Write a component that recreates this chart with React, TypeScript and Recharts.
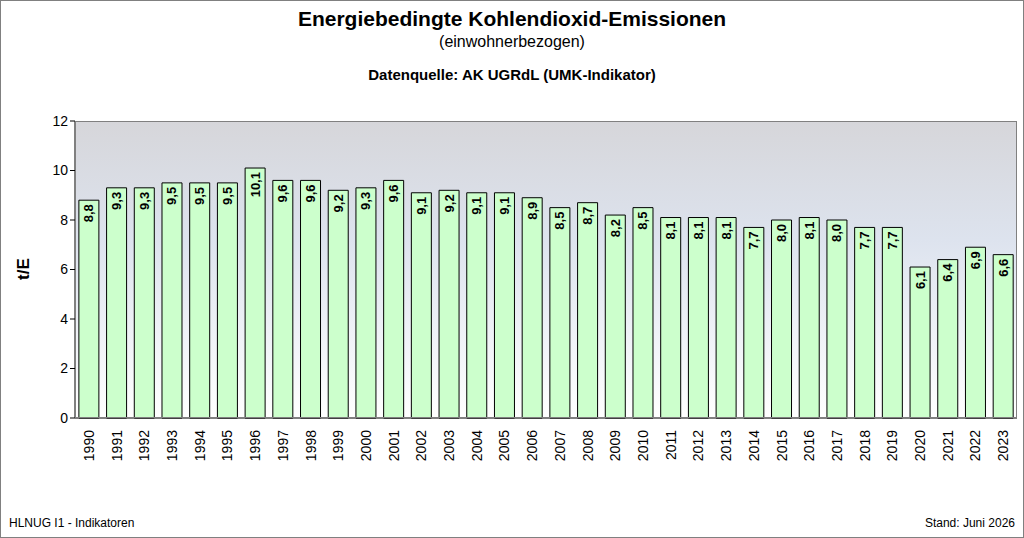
import { BarChart, Bar, XAxis, YAxis, CartesianGrid, LabelList } from 'recharts'

const years = ['1990','1991','1992','1993','1994','1995','1996','1997','1998','1999','2000','2001','2002','2003','2004','2005','2006','2007','2008','2009','2010','2011','2012','2013','2014','2015','2016','2017','2018','2019','2020','2021','2022','2023']
const values = [8.8,9.3,9.3,9.5,9.5,9.5,10.1,9.6,9.6,9.2,9.3,9.6,9.1,9.2,9.1,9.1,8.9,8.5,8.7,8.2,8.5,8.1,8.1,8.1,7.7,8.0,8.1,8.0,7.7,7.7,6.1,6.4,6.9,6.6]
const yTicks = [0, 2, 4, 6, 8, 10, 12]

const data = years.map((y, i) => ({ year: y, value: values[i] }))
const font = '"Liberation Sans", Arial, sans-serif'

const XTick = (props: any) => {
  const { x, y, payload } = props
  return (
    <text x={x} y={y + 4} transform={`rotate(-90 ${x} ${y + 4})`} textAnchor="end" dominantBaseline="central" fontSize={14} fill="#000" fontFamily={font}>
      {payload.value}
    </text>
  )
}

const BarLabel = (props: any) => {
  const { x, y, width, value } = props
  const cx = x + width / 2
  const cy = y + 4
  return (
    <text x={cx} y={cy} transform={`rotate(-90 ${cx} ${cy})`} textAnchor="end" dominantBaseline="central" fontSize={13} fontWeight="bold" fill="#000" fontFamily={font}>
      {Number(value).toFixed(1).replace('.', ',')}
    </text>
  )
}

export default function App() {
  return (
    <div style={{ position: 'fixed', left: 0, top: 0, width: 1024, height: 538, background: '#fff', fontFamily: font, boxSizing: 'border-box', border: '1px solid #808080' }}>
      <div style={{ position: 'absolute', top: 6, width: '100%', textAlign: 'center', fontSize: 21, fontWeight: 'bold' }}>Energiebedingte Kohlendioxid-Emissionen</div>
      <div style={{ position: 'absolute', top: 32, width: '100%', textAlign: 'center', fontSize: 16 }}>(einwohnerbezogen)</div>
      <div style={{ position: 'absolute', top: 65, width: '100%', textAlign: 'center', fontSize: 15, fontWeight: 'bold' }}>Datenquelle: AK UGRdL (UMK-Indikator)</div>
      <div style={{ position: 'absolute', left: 8, top: 258, width: 30, textAlign: 'center', fontSize: 17, fontWeight: 'bold', transform: 'rotate(-90deg)' }}>t/E</div>
      <div style={{ position: 'absolute', left: 8, top: 515, fontSize: 12 }}>HLNUG I1 - Indikatoren</div>
      <div style={{ position: 'absolute', right: 8, top: 515, fontSize: 12 }}>Stand: Juni 2026</div>
      <div style={{ position: 'absolute', left: 0, top: 0 }}>
        <BarChart width={1022} height={536} data={data} margin={{ top: 120, right: 6, left: 14, bottom: 69 }} barCategoryGap="14%">
          <defs>
            <linearGradient id="bg" x1="0" y1="0" x2="0" y2="1">
              <stop offset="0%" stopColor="#d6d6da" />
              <stop offset="40%" stopColor="#dde3ee" />
              <stop offset="100%" stopColor="#ffffff" />
            </linearGradient>
          </defs>
          <CartesianGrid horizontal={false} vertical={false} fill="url(#bg)" fillOpacity={1} />
          <XAxis dataKey="year" interval={0} tick={<XTick />} height={50} stroke="#000" tickLine={false} />
          <YAxis domain={[0, 12]} ticks={yTicks} width={60} stroke="#000" tick={{ fontSize: 14, fill: '#000', fontFamily: font }} tickSize={5} />
          <Bar dataKey="value" fill="#ccffcc" stroke="#000" strokeWidth={1} isAnimationActive={false}>
            <LabelList dataKey="value" content={<BarLabel />} />
          </Bar>
        </BarChart>
      </div>
      <div style={{ position: 'absolute', left: 74, top: 120, width: 942, height: 297, border: '1px solid #808080', boxSizing: 'border-box', pointerEvents: 'none' }} />
    </div>
  )
}
